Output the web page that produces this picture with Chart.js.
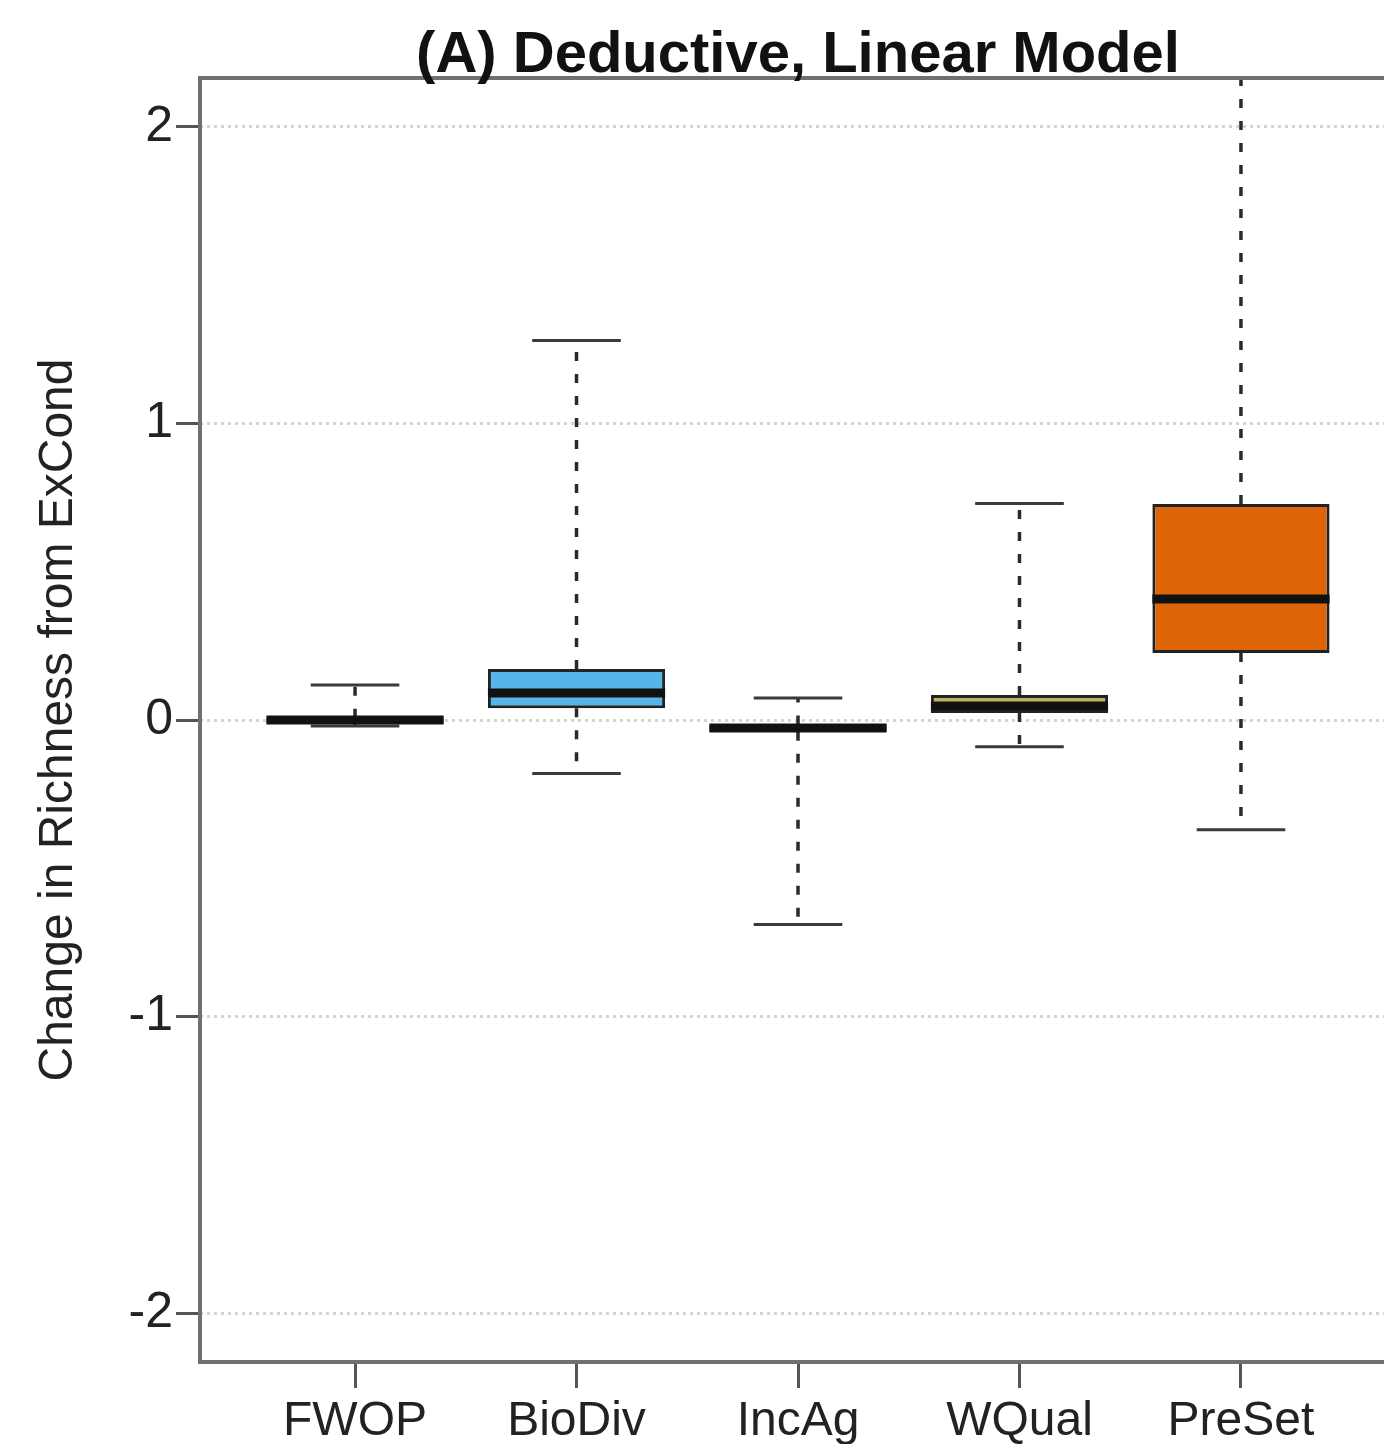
<!DOCTYPE html>
<html>
<head>
<meta charset="utf-8">
<script src="https://cdn.jsdelivr.net/npm/chart.js@4.4.0/dist/chart.umd.min.js"></script>
<style>
  html, body { margin: 0; padding: 0; background: #fff; overflow: hidden; }
  #wrap { width: 1400px; height: 1444px; }
</style>
</head>
<body>
<div id="wrap"><canvas id="richnessChart" width="1400" height="1444"></canvas></div>
<script>
// Boxplot: cambio en riqueza respecto a ExCond por escenario
const categories = ['FWOP', 'BioDiv', 'IncAg', 'WQual', 'PreSet'];
const whiskerLow = [-0.02, -0.18, -0.69, -0.09, -0.37];
const quartile1 = [-0.012, 0.04, -0.04, 0.024, 0.226];
const medians = [0.0, 0.091, -0.027, 0.047, 0.408];
const quartile3 = [0.008, 0.172, -0.015, 0.084, 0.728];
const whiskerHigh = [0.118, 1.28, 0.074, 0.73, 2.6];
const boxColors = ['#9a9a9a', '#56B4E9', '#009E73', '#bdb35c', '#dd6508'];
const yTicks = [-2, -1, 0, 1, 2];

// bigotes, topes y medianas sobre las cajas
const whiskerPlugin = {
    id: 'whiskers',
    afterDatasetsDraw(chart) {
        const { ctx, chartArea, scales: { y } } = chart;
        const meta = chart.getDatasetMeta(0);
        ctx.save();
        ctx.beginPath();
        ctx.rect(chartArea.left, chartArea.top, chartArea.width, chartArea.height);
        ctx.clip();
        meta.data.forEach((bar, i) => {
            const cx = bar.x;
            const half = bar.width / 2;
            const yLo = y.getPixelForValue(whiskerLow[i]);
            const yQ1 = y.getPixelForValue(quartile1[i]);
            const yQ3 = y.getPixelForValue(quartile3[i]);
            const yHi = y.getPixelForValue(whiskerHigh[i]);
            const yMed = y.getPixelForValue(medians[i]);

            // lineas punteadas
            ctx.strokeStyle = '#2a2a2a';
            ctx.lineWidth = 3.5;
            ctx.setLineDash([9, 13]);
            ctx.beginPath();
            ctx.moveTo(cx, yQ3); ctx.lineTo(cx, yHi);
            ctx.moveTo(cx, yQ1); ctx.lineTo(cx, yLo);
            ctx.stroke();

            // topes
            ctx.setLineDash([]);
            ctx.strokeStyle = '#3a3a3a';
            ctx.lineWidth = 3;
            ctx.beginPath();
            ctx.moveTo(cx - half / 2, yHi); ctx.lineTo(cx + half / 2, yHi);
            ctx.moveTo(cx - half / 2, yLo); ctx.lineTo(cx + half / 2, yLo);
            ctx.stroke();

            // mediana
            ctx.strokeStyle = '#111';
            ctx.lineWidth = 9;
            ctx.beginPath();
            ctx.moveTo(cx - half, yMed); ctx.lineTo(cx + half, yMed);
            ctx.stroke();
        });
        ctx.restore();
    },
    afterDraw(chart) {
        const { ctx, chartArea } = chart;
        ctx.save();
        // marco del grafico
        ctx.strokeStyle = '#707070';
        ctx.lineWidth = 4;
        ctx.strokeRect(chartArea.left, chartArea.top, chartArea.width, chartArea.height);
        // titulo
        ctx.fillStyle = '#111';
        ctx.font = 'bold 58px "Liberation Sans", Arial, sans-serif';
        ctx.textAlign = 'center';
        ctx.textBaseline = 'alphabetic';
        ctx.fillText('(A) Deductive, Linear Model', (chartArea.left + chartArea.right) / 2, 72);
        ctx.restore();
    }
};

const ctx = document.getElementById('richnessChart').getContext('2d');
const richnessChart = new Chart(ctx, {
    type: 'bar',
    data: {
        datasets: [{
            label: 'Change in Richness',
            data: categories.map((c, i) => ({ x: i + 1, y: [quartile1[i], quartile3[i]] })),
            backgroundColor: boxColors,
            borderColor: '#222',
            borderWidth: 3,
            borderSkipped: false,
            barPercentage: 0.8,
            categoryPercentage: 1.0
        }]
    },
    options: {
        responsive: false,
        animation: false,
        layout: { padding: { top: 78, right: 4, left: 0, bottom: 0 } },
        plugins: {
            legend: { display: false },
            tooltip: { enabled: false }
        },
        scales: {
            x: {
                type: 'linear',
                min: 0.3,
                max: 5.7,
                offset: false,
                afterBuildTicks: (scale) => { scale.ticks = categories.map((c, i) => ({ value: i + 1 })); },
                afterFit: (scale) => { scale.height = 82; },
                ticks: {
                    autoSkip: false,
                    maxRotation: 0,
                    padding: 5,
                    color: '#222',
                    font: { family: '"Liberation Sans", Arial, sans-serif', size: 48 },
                    callback: (v) => categories[Math.round(v) - 1]
                },
                grid: { offset: false, drawOnChartArea: false, tickLength: 26, tickColor: '#555', tickWidth: 3 },
                border: { display: false }
            },
            y: {
                min: -2.165,
                max: 2.165,
                afterBuildTicks: (scale) => { scale.ticks = yTicks.map(v => ({ value: v })); },
                afterFit: (scale) => { scale.width = 200; },
                ticks: {
                    padding: 3,
                    color: '#222',
                    font: { family: '"Liberation Sans", Arial, sans-serif', size: 50 }
                },
                grid: { color: '#d4d4d4', lineWidth: 3, tickLength: 24, tickColor: '#555', tickWidth: 3 },
                border: { display: false, dash: [3, 4] },
                title: {
                    display: true,
                    text: 'Change in Richness from ExCond',
                    color: '#222',
                    font: { family: '"Liberation Sans", Arial, sans-serif', size: 48 },
                    padding: { top: 30, bottom: 0 }
                }
            }
        }
    },
    plugins: [whiskerPlugin]
});
</script>
</body>
</html>
